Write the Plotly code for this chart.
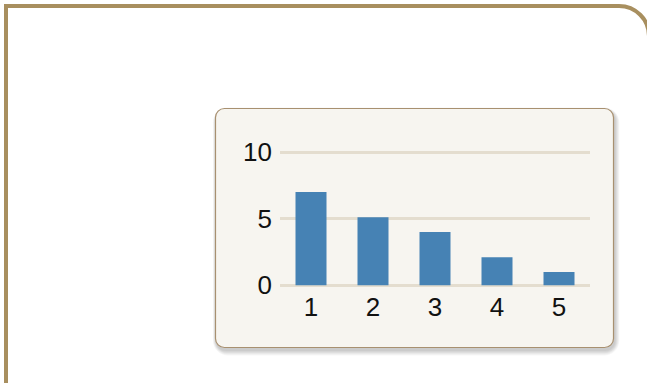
import plotly.graph_objects as go

# Data
categories = [1, 2, 3, 4, 5]
values = [7, 5.1, 4, 2.1, 1]
y_ticks = [0, 5, 10]

W, H = 647, 383


def fx(px):
    return px / W


def fy(py):
    return (H - py) / H


def rounded_rect(x0, y0, x1, y1, r):
    k = 0.5523 * r
    pts = [
        f"M{fx(x0 + r)},{fy(y0)}",
        f"L{fx(x1 - r)},{fy(y0)}",
        f"C{fx(x1 - r + k)},{fy(y0)} {fx(x1)},{fy(y0 + r - k)} {fx(x1)},{fy(y0 + r)}",
        f"L{fx(x1)},{fy(y1 - r)}",
        f"C{fx(x1)},{fy(y1 - r + k)} {fx(x1 - r + k)},{fy(y1)} {fx(x1 - r)},{fy(y1)}",
        f"L{fx(x0 + r)},{fy(y1)}",
        f"C{fx(x0 + r - k)},{fy(y1)} {fx(x0)},{fy(y1 - r + k)} {fx(x0)},{fy(y1 - r)}",
        f"L{fx(x0)},{fy(y0 + r)}",
        f"C{fx(x0)},{fy(y0 + r - k)} {fx(x0 + r - k)},{fy(y0)} {fx(x0 + r)},{fy(y0)}",
        "Z",
    ]
    return " ".join(pts)


shapes = []

# Outer frame with a rounded top-right corner
r_out = 30
x_left, y_top, x_right = 6, 6, 649
k = 0.5523 * r_out
frame_path = (
    f"M{fx(x_left)},{fy(420)} L{fx(x_left)},{fy(y_top)} "
    f"L{fx(x_right - r_out)},{fy(y_top)} "
    f"C{fx(x_right - r_out + k)},{fy(y_top)} {fx(x_right)},{fy(y_top + r_out - k)} "
    f"{fx(x_right)},{fy(y_top + r_out)} L{fx(x_right)},{fy(420)}"
)
shapes.append(dict(type="path", xref="paper", yref="paper", path=frame_path,
                   line=dict(color="#a88f5f", width=4), layer="below"))

# Soft drop shadow under the card
bx0, by0, bx1, by1 = 215.5, 108.5, 613.5, 347.5
for i in range(6, 0, -1):
    shapes.append(dict(type="path", xref="paper", yref="paper",
                       path=rounded_rect(bx0 - i * 0.6 + 1, by0 - i * 0.6 + 2.5,
                                         bx1 + i * 0.8 + 1, by1 + i * 0.9 + 2.5, 9 + i),
                       fillcolor="rgba(0,0,0,0.035)", line=dict(width=0), layer="below"))

# Card
shapes.append(dict(type="path", xref="paper", yref="paper",
                   path=rounded_rect(bx0, by0, bx1, by1, 9),
                   fillcolor="#f7f5f0", line=dict(color="#a89070", width=1.2), layer="below"))

fig = go.Figure(go.Bar(x=categories, y=values, marker=dict(color="#4682b4", line=dict(width=0))))

# y range padded slightly so the gridlines at 0 and 10 are drawn
y_lo, y_hi = -0.15, 10.15
px_per_unit = (285.3 - 152) / 10
y_dom = [fy(285.3 - y_lo * px_per_unit), fy(152 - (y_hi - 10) * px_per_unit)]

fig.update_layout(
    width=W, height=H,
    margin=dict(l=0, r=0, t=0, b=0, pad=0, autoexpand=False),
    paper_bgcolor="white",
    plot_bgcolor="rgba(0,0,0,0)",
    bargap=0.5,
    showlegend=False,
    shapes=shapes,
    font=dict(family="Liberation Sans, Arial, sans-serif", size=26, color="#111111"),
    xaxis=dict(domain=[fx(280), fx(590)], range=[0.5, 5.5], tickvals=categories,
               ticktext=[str(c) for c in categories], showgrid=False, zeroline=False,
               showline=False, ticks="", ticklabelstandoff=2, automargin=False),
    yaxis=dict(domain=y_dom, range=[y_lo, y_hi], tickvals=y_ticks,
               showgrid=True, gridcolor="#e4ddcf", gridwidth=2.5, zeroline=False,
               showline=False, ticks="", ticklabelstandoff=7, automargin=False),
)

fig.write_html("out.html")
